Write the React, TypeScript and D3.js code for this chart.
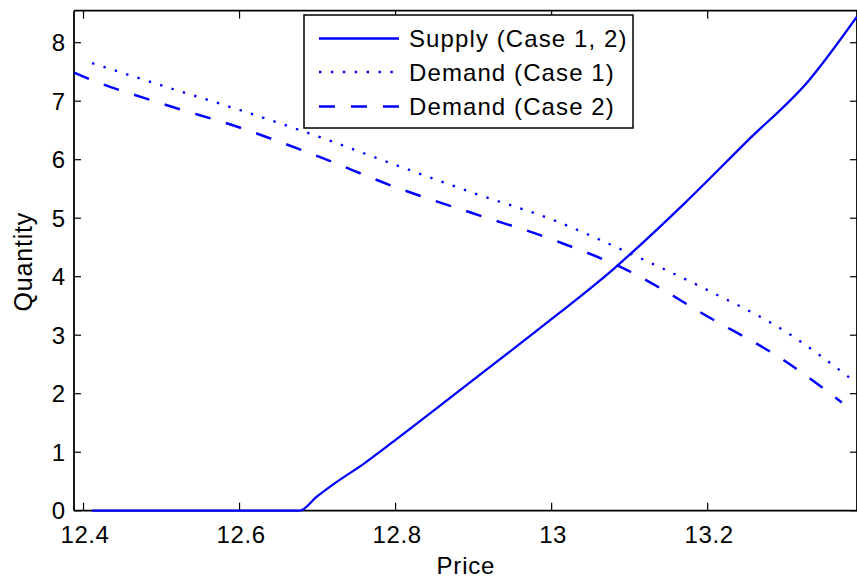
import React from 'react';
import * as d3 from 'd3';

// Supply curve (Case 1, 2)
const supplyPrice = [12.411, 12.5, 12.6, 12.677, 12.699, 12.72, 12.76, 12.8, 12.9, 12.985, 13.08, 13.17, 13.25, 13.33, 13.391];
const supplyQty = [0, 0, 0, 0, 0.24, 0.45, 0.81, 1.21, 2.24, 3.12, 4.14, 5.25, 6.31, 7.36, 8.44];

// Demand curve, Case 1
const demand1Price = [12.411, 12.5, 12.6, 12.7, 12.8, 12.9, 13.0, 13.1, 13.2, 13.3, 13.387];
const demand1Qty = [7.65, 7.27, 6.85, 6.40, 5.91, 5.43, 4.98, 4.40, 3.77, 3.06, 2.22];

// Demand curve, Case 2
const demand2Price = [12.388, 12.4, 12.5, 12.6, 12.7, 12.8, 12.9, 13.0, 13.1, 13.2, 13.3, 13.372];
const demand2Qty = [7.49, 7.42, 6.96, 6.55, 6.06, 5.53, 5.08, 4.64, 4.09, 3.32, 2.55, 1.85];

const xTicks = [12.4, 12.6, 12.8, 13, 13.2];
const xTickLabels = ['12.4', '12.6', '12.8', '13', '13.2'];
const yTicks = [0, 1, 2, 3, 4, 5, 6, 7, 8];
const yTickLabels = ['0', '1', '2', '3', '4', '5', '6', '7', '8'];

const seriesNames = ['Supply (Case 1, 2)', 'Demand (Case 1)', 'Demand (Case 2)'];

const W = 857;
const H = 582;
const left = 74;
const right = 857;
const top = 10.7;
const bottom = 510.7;
const FONT = '"Liberation Sans", Arial, Helvetica, sans-serif';
const BLUE = '#0000ff';

export default function App() {
  const x = d3.scaleLinear().domain([12.3878, 13.3914]).range([left, right]);
  const y = d3.scaleLinear().domain([0, 8.547]).range([bottom, top]);

  const line = d3
    .line<[number, number]>()
    .x((d) => x(d[0]))
    .y((d) => y(d[1]))
    .curve(d3.curveMonotoneX);

  const zip = (a: number[], b: number[]) => a.map((v, i) => [v, b[i]] as [number, number]);

  const series = [
    { pts: zip(supplyPrice, supplyQty), dash: undefined as string | undefined, width: 2.3 },
    { pts: zip(demand1Price, demand1Qty), dash: '2.4 9.5', width: 2.3 },
    { pts: zip(demand2Price, demand2Qty), dash: '16 16', width: 2.5 },
  ];

  const legend = { x0: 304, y0: 15, x1: 633, y1: 128 };
  const rowY = [38.5, 72, 106.5];

  return (
    <svg
      width={W}
      height={H}
      style={{ position: 'absolute', left: 0, top: 0, background: '#fff' }}
      fontFamily={FONT}
    >
      <rect x={0} y={0} width={W} height={H} fill="#fff" />

      {/* axes box */}
      <g stroke="#000" strokeWidth={1.8} fill="none">
        <line x1={left} x2={right} y1={bottom} y2={bottom} />
        <line x1={left} x2={right} y1={top} y2={top} />
        <line x1={left} x2={left} y1={top} y2={bottom} />
        <line x1={right} x2={right} y1={top} y2={bottom} />
      </g>

      {/* ticks, pointing inward on all four sides */}
      <g stroke="#000" strokeWidth={1.2}>
        {xTicks.map((t) => (
          <g key={'xt' + t}>
            <line x1={x(t)} x2={x(t)} y1={bottom} y2={bottom - 8} />
            <line x1={x(t)} x2={x(t)} y1={top} y2={top + 8} />
          </g>
        ))}
        {yTicks.map((t) => (
          <g key={'yt' + t}>
            <line x1={left} x2={left + 7} y1={y(t)} y2={y(t)} />
            <line x1={right} x2={right - 7} y1={y(t)} y2={y(t)} />
          </g>
        ))}
      </g>

      {/* tick labels */}
      <g fontSize={24} fill="#000" letterSpacing={0.6}>
        {xTicks.map((t, i) => (
          <text key={'xl' + t} x={x(t) + 1.5} y={543} textAnchor="middle">
            {xTickLabels[i]}
          </text>
        ))}
        {yTicks.map((t, i) => (
          <text key={'yl' + t} x={65.6} y={y(t) + 8.5} textAnchor="end">
            {yTickLabels[i]}
          </text>
        ))}
      </g>

      {/* axis titles */}
      <text
        x={(left + right) / 2 + 0.4}
        y={574}
        textAnchor="middle"
        fontSize={24}
        letterSpacing={0.8}
        fill="#000"
      >
        Price
      </text>
      <text
        transform={`translate(31.5, ${(top + bottom) / 2 + 1}) rotate(-90)`}
        textAnchor="middle"
        fontSize={25}
        letterSpacing={0.8}
        fill="#000"
      >
        Quantity
      </text>

      {/* curves */}
      <g fill="none" stroke={BLUE}>
        {series.map((s, i) => (
          <path key={'s' + i} d={line(s.pts) || ''} strokeWidth={s.width} strokeDasharray={s.dash} />
        ))}
      </g>

      {/* legend */}
      <rect
        x={legend.x0}
        y={legend.y0}
        width={legend.x1 - legend.x0}
        height={legend.y1 - legend.y0}
        fill="#fff"
        stroke="#000"
        strokeWidth={1.5}
      />
      {seriesNames.map((name, i) => (
        <g key={'lg' + i}>
          <line
            x1={319}
            x2={399}
            y1={rowY[i]}
            y2={rowY[i]}
            stroke={BLUE}
            strokeWidth={series[i].width}
            strokeDasharray={series[i].dash}
          />
          <text x={409} y={rowY[i] + 8.5} fontSize={24} letterSpacing={1.1} fill="#000">
            {name}
          </text>
        </g>
      ))}
    </svg>
  );
}
